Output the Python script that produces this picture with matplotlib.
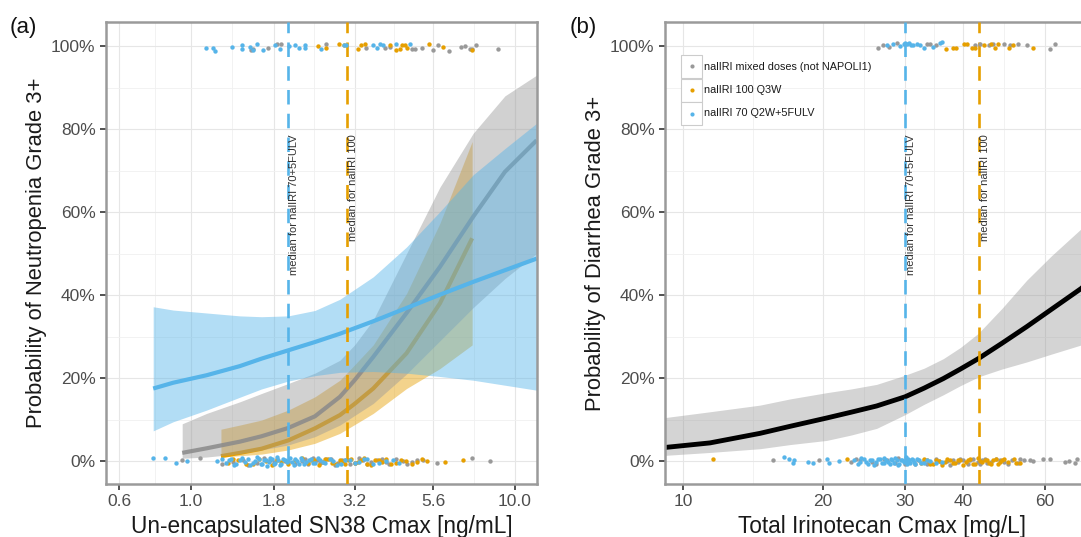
import matplotlib
matplotlib.use("Agg")
import matplotlib.pyplot as plt
from matplotlib.patches import Rectangle
from matplotlib.ticker import FixedLocator, FuncFormatter, NullFormatter

plt.rcParams['font.family'] = ['Liberation Sans', 'DejaVu Sans']

BLUE = '#56B4E9'
ORANGE = '#E69F00'
GRAY = '#999999'

# ---------------- Panel (a): un-encapsulated SN38 ----------------
a_blue_x = [0.765, 0.882, 1.118, 1.416, 1.652, 1.997, 2.414, 2.883, 3.653, 4.630, 5.868, 7.436, 9.314, 11.67]
a_blue_fit = [0.175, 0.189, 0.207, 0.229, 0.247, 0.267, 0.287, 0.307, 0.337, 0.369, 0.401, 0.432, 0.460, 0.488]
a_blue_hi = [0.372, 0.364, 0.357, 0.350, 0.348, 0.350, 0.363, 0.390, 0.444, 0.516, 0.601, 0.690, 0.753, 0.814]
a_blue_lo = [0.073, 0.095, 0.123, 0.154, 0.174, 0.193, 0.206, 0.214, 0.216, 0.212, 0.204, 0.195, 0.183, 0.171]

a_gray_x = [0.940, 1.118, 1.416, 1.652, 1.997, 2.414, 2.883, 3.200, 3.653, 4.630, 5.868, 7.436, 9.314, 11.67]
a_gray_fit = [0.020, 0.031, 0.047, 0.060, 0.080, 0.108, 0.155, 0.195, 0.251, 0.357, 0.468, 0.589, 0.697, 0.773]
a_gray_hi = [0.090, 0.115, 0.143, 0.163, 0.187, 0.212, 0.243, 0.280, 0.340, 0.500, 0.660, 0.790, 0.880, 0.930]
a_gray_lo = [0.007, 0.010, 0.018, 0.027, 0.039, 0.059, 0.087, 0.110, 0.139, 0.210, 0.290, 0.370, 0.440, 0.500]

a_orange_x = [1.238, 1.416, 1.652, 1.997, 2.414, 2.883, 3.200, 3.653, 4.630, 5.868, 7.38]
a_orange_fit = [0.012, 0.020, 0.030, 0.050, 0.079, 0.111, 0.138, 0.175, 0.260, 0.380, 0.537]
a_orange_hi = [0.077, 0.087, 0.099, 0.123, 0.155, 0.195, 0.232, 0.280, 0.404, 0.573, 0.770]
a_orange_lo = [0.010, 0.013, 0.017, 0.027, 0.043, 0.067, 0.088, 0.115, 0.175, 0.223, 0.280]

a_medians = [1.997, 3.03]
a_median_labels = ['median for nalIRI 70+5FULV', 'median for nalIRI 100']

# observed events (y=1) and non-events (y=0), jittered as in the picture
a_top_blue_x = [1.11, 1.17, 1.19, 1.335, 1.434, 1.434, 1.52, 1.55, 1.595, 1.67, 1.816, 1.88, 2.01, 2.09,
                2.16, 2.25, 2.25, 2.52, 2.97, 3.02, 3.65, 3.74, 3.83, 3.92, 4.31, 4.74]
a_top_blue_y = [0.996, 0.996, 0.988, 0.998, 1.002, 0.992, 0.998, 0.990, 1.005, 0.990, 1.002, 0.994, 1.000, 1.002,
                0.996, 1.002, 0.996, 0.994, 1.002, 1.002, 1.002, 0.996, 1.005, 1.002, 1.005, 1.005]
a_top_gray_x = [1.53, 1.56, 1.73, 1.84, 1.90, 2.62, 3.46, 3.97, 4.11, 4.80, 4.91, 5.15, 5.60, 5.80,
                6.27, 6.84, 7.01, 7.26, 7.35, 7.58, 8.88]
a_top_gray_y = [0.990, 0.992, 0.996, 1.005, 1.006, 1.005, 0.996, 0.996, 0.998, 0.994, 0.994, 0.996, 0.990, 1.002,
                0.988, 0.998, 1.000, 0.992, 0.994, 1.002, 0.994]
a_top_orange_x = [2.47, 2.61, 2.87, 2.97, 3.27, 3.36, 3.44, 4.11, 4.31, 4.42, 4.49, 4.58, 4.63, 5.44, 6.01, 7.35]
a_top_orange_y = [1.000, 0.996, 1.005, 1.002, 0.994, 1.002, 1.005, 1.002, 0.990, 0.994, 1.002, 1.002, 0.996, 1.005,
                  0.998, 0.990]

a_bot_blue_x = [0.765, 0.83, 0.90, 0.97, 1.20, 1.25, 1.28, 1.31, 1.33, 1.36, 1.38, 1.42, 1.44, 1.47, 1.50,
                1.52, 1.55, 1.58, 1.60, 1.62, 1.64, 1.66, 1.68, 1.70, 1.72, 1.74, 1.76, 1.78, 1.80, 1.82,
                1.84, 1.86, 1.88, 1.90, 1.92, 1.95, 1.98, 2.00, 2.02, 2.05, 2.08, 2.10, 2.12, 2.15, 2.18,
                2.20, 2.24, 2.27, 2.31, 2.35, 2.38, 2.42, 2.46, 2.50, 2.55, 2.60, 2.68, 2.75, 2.82, 2.90,
                3.00, 3.10, 3.20, 3.30, 3.42, 3.50, 3.65, 3.80, 4.00, 4.20, 4.40]
a_bot_blue_y = [0.007, 0.007, -0.005, 0.000, 0.000, 0.006, -0.004, 0.002, 0.005, -0.009, -0.006, 0.002, 0.008,
                -0.002, 0.006, -0.010, -0.005, 0.001, 0.009, 0.005, -0.008, -0.007, 0.004, 0.003, -0.011,
                -0.001, 0.007, 0.006, -0.006, -0.004, 0.009, 0.002, -0.009, -0.006, 0.005, 0.004, -0.003,
                0.000, 0.008, -0.003, -0.010, 0.005, 0.001, -0.006, 0.007, 0.002, -0.008, -0.002, 0.004,
                0.006, -0.005, -0.005, 0.008, 0.003, -0.002, -0.004, 0.005, 0.001, -0.009, -0.006, 0.003,
                0.004, -0.004, -0.002, 0.006, 0.005, -0.007, -0.005, 0.000, 0.002, -0.004]
a_bot_gray_x = [0.94, 1.07, 1.25, 1.35, 1.45, 1.50, 1.60, 1.68, 1.75, 1.80, 1.85, 1.95, 2.00, 2.10, 2.20,
                2.25, 2.30, 2.38, 2.45, 2.50, 2.55, 2.62, 2.70, 2.78, 2.85, 2.92, 3.00, 3.10, 3.20, 3.30,
                3.40, 3.50, 3.60, 3.75, 3.90, 4.00, 4.10, 4.30, 4.50, 4.65, 4.80, 5.00, 5.20, 5.73, 7.35, 8.37]
a_bot_gray_y = [0.003, 0.007, -0.007, -0.002, 0.004, -0.009, -0.005, 0.007, 0.002, -0.003, 0.006, 0.001, -0.003,
                -0.008, 0.001, 0.005, -0.006, 0.008, 0.004, -0.004, -0.001, 0.006, 0.005, -0.009, -0.004,
                0.003, 0.002, -0.006, -0.005, 0.007, 0.003, -0.008, -0.002, 0.004, 0.005, -0.003, -0.006,
                0.006, 0.001, -0.008, -0.003, 0.004, 0.004, -0.004, 0.007, 0.000]
a_bot_orange_x = [1.30, 1.35, 1.40, 1.48, 1.55, 1.62, 1.70, 1.78, 1.85, 1.90, 2.00, 2.10, 2.20, 2.30, 2.35,
                  2.40, 2.48, 2.55, 2.60, 2.65, 2.72, 2.80, 2.88, 2.95, 3.00, 3.05, 3.12, 3.20, 3.28, 3.35,
                  3.42, 3.50, 3.60, 3.70, 3.80, 3.90, 4.00, 4.15, 4.30, 4.45, 4.60, 4.80, 5.00, 5.15, 5.34,
                  6.08, 6.93]
a_bot_orange_y = [-0.004, 0.005, 0.003, -0.008, -0.006, 0.006, 0.001, -0.009, 0.004, -0.002, -0.007, 0.004,
                  0.007, -0.005, 0.002, 0.002, -0.010, -0.003, 0.006, 0.005, -0.004, -0.006, 0.003, 0.000,
                  -0.008, 0.004, 0.006, -0.004, -0.002, 0.002, 0.007, -0.006, -0.009, 0.003, 0.004, -0.002,
                  0.005, -0.007, -0.005, 0.003, 0.001, -0.008, -0.003, 0.005, 0.000, -0.002, 0.002]

a_xticks = [0.6, 1.0, 1.8, 3.2, 5.6, 10.0]
a_xticklabels = ['0.6', '1.0', '1.8', '3.2', '5.6', '10.0']
a_xminor = [0.775, 1.342, 2.4, 4.23, 7.48]

# ---------------- Panel (b): total irinotecan ----------------
b_x = [9.15, 11.43, 14.64, 17.0, 20.37, 23.0, 26.09, 30.02, 33.0, 36.29, 39.5, 43.15, 48.5, 54.83, 62.0, 71.8, 75.0]
b_fit = [0.033, 0.044, 0.067, 0.084, 0.104, 0.118, 0.133, 0.155, 0.176, 0.199, 0.222, 0.247, 0.284, 0.324,
         0.366, 0.416, 0.435]
b_hi = [0.105, 0.119, 0.135, 0.150, 0.165, 0.174, 0.185, 0.207, 0.224, 0.247, 0.274, 0.308, 0.368, 0.436,
        0.495, 0.560, 0.590]
b_lo = [0.014, 0.021, 0.030, 0.040, 0.050, 0.063, 0.079, 0.112, 0.137, 0.160, 0.182, 0.203, 0.222, 0.239,
        0.258, 0.280, 0.287]

b_medians = [30.05, 43.3]
b_median_labels = ['median for nalIRI 70+5FULV', 'median for nalIRI 100']

b_top_gray_x = [26.3, 26.9, 27.7, 28.8, 33.4, 34.0, 35.0, 42.5, 43.6, 45.4, 46.5, 48.9, 50.5, 52.6, 54.8, 61.5, 63.1]
b_top_gray_y = [0.996, 1.002, 0.997, 1.007, 1.005, 1.005, 1.002, 1.002, 1.005, 1.002, 1.005, 1.005, 1.002, 1.005,
                1.002, 0.994, 1.006]
b_top_blue_x = [27.5, 28.3, 29.3, 29.8, 30.0, 30.3, 30.6, 30.9, 31.3, 31.8, 32.3, 32.9, 34.5, 35.7, 36.0]
b_top_blue_y = [1.002, 1.005, 1.001, 1.006, 1.008, 1.005, 1.007, 1.002, 1.002, 1.005, 1.002, 0.996, 0.998, 1.008,
                1.010]
b_top_orange_x = [36.8, 38.1, 38.7, 40.1, 40.8, 41.8, 42.4, 44.3, 45.9, 46.9, 47.6, 50.1, 51.2, 56.6]
b_top_orange_y = [0.994, 0.996, 0.996, 1.005, 1.005, 0.996, 0.996, 1.002, 1.006, 0.996, 1.006, 0.996, 1.002, 0.996]

b_bot_orange_x = [11.6, 22.5, 32.5, 33.0, 33.5, 34.0, 34.5, 35.0, 35.5, 36.0, 36.5, 37.0, 37.5, 38.0, 38.5,
                  39.0, 39.5, 40.0, 40.5, 41.0, 41.5, 42.0, 42.5, 43.0, 43.5, 44.0, 44.5, 45.0, 45.5, 46.0,
                  46.5, 47.0, 47.5, 48.0, 48.5, 49.0, 50.0, 51.5, 52.0, 53.0]
b_bot_orange_y = [0.006, 0.006, -0.004, 0.005, 0.003, -0.008, -0.006, 0.002, 0.001, -0.009, -0.002, 0.006,
                  0.004, -0.004, -0.005, 0.003, 0.002, -0.010, -0.003, 0.004, 0.005, -0.006, -0.006, 0.007,
                  0.000, -0.003, 0.004, 0.002, -0.004, -0.008, 0.002, 0.005, -0.006, -0.002, 0.003, 0.006,
                  -0.002, 0.005, -0.004, -0.005]
b_bot_gray_x = [15.6, 19.6, 23.0, 23.5, 24.0, 25.5, 26.0, 27.0, 27.5, 28.5, 29.0, 30.0, 30.5, 31.5, 32.0,
                33.0, 33.5, 34.0, 35.0, 35.5, 36.0, 37.0, 37.5, 38.0, 39.0, 39.5, 40.0, 41.0, 41.5, 42.0,
                43.0, 43.5, 44.0, 44.5, 45.0, 46.0, 47.0, 48.0, 49.0, 50.0, 51.0, 52.5, 53.0, 54.0, 55.7,
                56.5, 59.5, 61.5, 66.2, 67.5, 69.7, 70.3]
b_bot_gray_y = [0.002, 0.002, -0.003, 0.005, 0.004, -0.001, -0.007, 0.005, 0.002, -0.004, 0.007, -0.006,
                0.002, -0.006, 0.004, 0.003, -0.008, -0.002, 0.006, 0.001, -0.005, 0.001, -0.009, 0.004,
                -0.003, 0.006, 0.002, -0.006, 0.003, 0.005, -0.001, -0.007, 0.003, 0.006, -0.004, -0.002,
                0.006, 0.004, -0.002, -0.006, 0.002, -0.005, 0.005, 0.004, 0.004, 0.001, 0.005, 0.005, -0.002,
                0.000, -0.004, 0.005]
b_bot_blue_x = [16.5, 16.9, 17.2, 17.3, 18.6, 19.0, 20.4, 20.6, 21.6, 23.3, 23.8, 24.0, 24.2, 24.5, 24.8,
                25.0, 25.2, 25.5, 25.8, 26.0, 26.2, 26.5, 26.8, 27.0, 27.1, 27.3, 27.6, 27.9, 28.0, 28.2,
                28.4, 28.6, 28.8, 29.0, 29.2, 29.4, 29.6, 29.8, 30.0, 30.1, 30.2, 30.3, 30.5, 30.6, 30.8,
                31.0, 31.2, 31.4, 31.6, 31.8, 32.1, 32.5, 33.0, 33.5, 34.0, 35.0, 36.0]
b_bot_blue_y = [0.010, 0.005, -0.005, 0.002, -0.002, -0.004, 0.005, -0.005, 0.001, 0.004, -0.007, -0.003,
                0.007, 0.006, -0.002, -0.006, 0.003, 0.002, -0.009, -0.002, 0.006, 0.005, -0.004, -0.005,
                0.008, 0.003, -0.001, -0.008, 0.006, 0.002, -0.004, 0.007, 0.002, -0.010, -0.006, 0.004,
                0.004, -0.003, 0.000, 0.009, -0.003, -0.008, 0.005, 0.002, -0.005, 0.006, 0.002, -0.002,
                -0.006, 0.005, 0.004, -0.004, -0.004, 0.003, 0.001, -0.005, -0.003]

b_xticks = [10, 20, 30, 40, 60]
b_xticklabels = ['10', '20', '30', '40', '60']
b_xminor = [14.14, 24.49, 34.64, 48.99, 77.46]

yticks = [0.0, 0.2, 0.4, 0.6, 0.8, 1.0]
yticklabels = ['0%', '20%', '40%', '60%', '80%', '100%']
yminor = [0.1, 0.3, 0.5, 0.7, 0.9]

legend_labels = ['nalIRI mixed doses (not NAPOLI1)', 'nalIRI 100 Q3W', 'nalIRI 70 Q2W+5FULV']
legend_colors = [GRAY, ORANGE, BLUE]

W, H = 1081, 537
fig = plt.figure(figsize=(W / 100, H / 100), dpi=100)
fig.patch.set_facecolor('white')

ax_a = fig.add_axes([106 / W, 1 - 484 / H, (537 - 106) / W, 462 / H])
ax_b = fig.add_axes([665 / W, 1 - 484 / H, (1100 - 665) / W, 462 / H])


def style_axes(ax, xticks, xlabels, xminor, xlim):
    ax.set_xscale('log')
    ax.set_xlim(*xlim)
    ax.set_ylim(-0.055, 1.058)
    ax.xaxis.set_major_locator(FixedLocator(xticks))
    ax.xaxis.set_major_formatter(FuncFormatter(lambda v, p: xlabels[xticks.index(v)] if v in xticks else ''))
    ax.xaxis.set_minor_locator(FixedLocator(xminor))
    ax.xaxis.set_minor_formatter(NullFormatter())
    ax.yaxis.set_major_locator(FixedLocator(yticks))
    ax.set_yticklabels(yticklabels)
    ax.yaxis.set_minor_locator(FixedLocator(yminor))
    ax.grid(which='major', color='#E6E6E6', lw=0.8, zorder=0)
    ax.grid(which='minor', color='#F0F0F0', lw=0.6, zorder=0)
    ax.set_axisbelow(True)
    for s in ax.spines.values():
        s.set_color('#9A9A9A')
        s.set_linewidth(1.8)
    ax.tick_params(which='major', length=4, width=1.2, color='#333333', labelsize=12.5,
                   labelcolor='#4D4D4D', pad=3.5)
    ax.tick_params(which='minor', length=0)


style_axes(ax_a, a_xticks, a_xticklabels, a_xminor, (0.547, 11.7))
style_axes(ax_b, b_xticks, b_xticklabels, b_xminor, (9.15, 78.8))

# ---- panel (a) bands and fits
ax_a.fill_between(a_orange_x, a_orange_lo, a_orange_hi, color=ORANGE, alpha=0.45, lw=0, zorder=2)
ax_a.plot(a_orange_x, a_orange_fit, color=ORANGE, lw=3.0, zorder=2.1, solid_capstyle='butt')
ax_a.fill_between(a_gray_x, a_gray_lo, a_gray_hi, color=GRAY, alpha=0.45, lw=0, zorder=2.2)
ax_a.plot(a_gray_x, a_gray_fit, color='#8A8A8A', lw=3.0, alpha=0.85, zorder=2.3, solid_capstyle='butt')
ax_a.fill_between(a_blue_x, a_blue_lo, a_blue_hi, color=BLUE, alpha=0.45, lw=0, zorder=2.4)
ax_a.plot(a_blue_x, a_blue_fit, color=BLUE, lw=3.0, zorder=2.5, solid_capstyle='butt')

# ---- panel (b) band and fit
ax_b.fill_between(b_x, b_lo, b_hi, color=GRAY, alpha=0.42, lw=0, zorder=2)
ax_b.plot(b_x, b_fit, color='black', lw=3.5, zorder=2.5)

# ---- medians
for ax, meds, labels in ((ax_a, a_medians, a_median_labels), (ax_b, b_medians, b_median_labels)):
    for m, lab, c in zip(meds, labels, [BLUE, ORANGE]):
        ax.axvline(m, color=c, lw=1.9, ls=(0, (5.5, 3.5)), zorder=3)
        ax.text(m * 1.005, 0.787, lab, rotation=90, ha='left', va='top', fontsize=8,
                color='#333333', zorder=3.5)

# ---- points
pts_a = [(a_top_gray_x, a_top_gray_y, GRAY), (a_bot_gray_x, a_bot_gray_y, GRAY),
         (a_top_orange_x, a_top_orange_y, ORANGE), (a_bot_orange_x, a_bot_orange_y, ORANGE),
         (a_top_blue_x, a_top_blue_y, BLUE), (a_bot_blue_x, a_bot_blue_y, BLUE)]
pts_b = [(b_top_gray_x, b_top_gray_y, GRAY), (b_bot_gray_x, b_bot_gray_y, GRAY),
         (b_top_orange_x, b_top_orange_y, ORANGE), (b_bot_orange_x, b_bot_orange_y, ORANGE),
         (b_top_blue_x, b_top_blue_y, BLUE), (b_bot_blue_x, b_bot_blue_y, BLUE)]
for ax, pts in ((ax_a, pts_a), (ax_b, pts_b)):
    for xs, ys, c in pts:
        ax.scatter(xs, ys, s=10, color=c, lw=0, zorder=4)

# ---- labels
ax_a.set_xlabel('Un-encapsulated SN38 Cmax [ng/mL]', fontsize=16.3, color='#1A1A1A', labelpad=4)
ax_a.set_ylabel('Probability of Neutropenia Grade 3+', fontsize=15.8, color='#1A1A1A', labelpad=3)
ax_b.set_xlabel('Total Irinotecan Cmax [mg/L]', fontsize=16.3, color='#1A1A1A', labelpad=4)
ax_b.set_ylabel('Probability of Diarrhea Grade 3+', fontsize=15.8, color='#1A1A1A', labelpad=3)

fig.text(10 / W, 1 - 27 / H, '(a)', fontsize=16, va='center', ha='left', color='#111111')
fig.text(570 / W, 1 - 27 / H, '(b)', fontsize=16, va='center', ha='left', color='#111111')

# ---- legend (manual, ggplot style keys)
box_w = 21 / 435
box_h = 23 / 462
for i, (lab, c) in enumerate(zip(legend_labels, legend_colors)):
    top = (484 - 55 - i * 23.5) / 462
    ax_b.add_patch(Rectangle((16 / 435, top - box_h), box_w, box_h, transform=ax_b.transAxes,
                             facecolor='white', edgecolor='#CCCCCC', lw=0.8, zorder=5))
    ax_b.scatter([16 / 435 + box_w / 2], [top - box_h / 2], s=9, color=c, lw=0,
                 transform=ax_b.transAxes, zorder=6)
    ax_b.text(39 / 435, top - box_h / 2, lab, transform=ax_b.transAxes, fontsize=7.8,
              va='center', ha='left', color='#1A1A1A', zorder=6)

fig.savefig('out.png', dpi=100)
